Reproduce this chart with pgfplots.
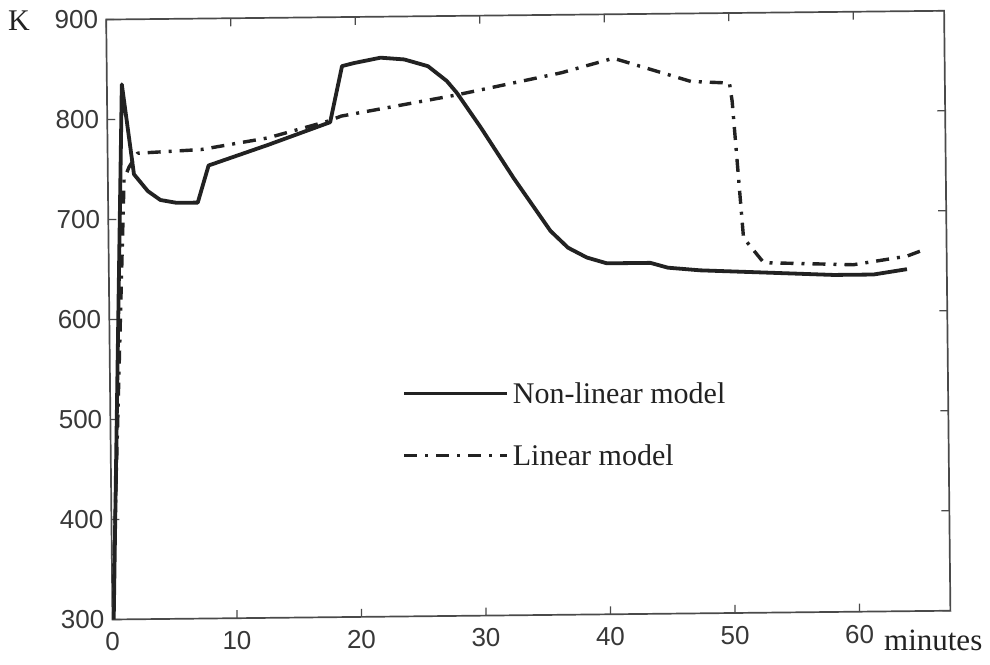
\documentclass[border=0pt]{standalone}
\usepackage{fontspec}
\setmainfont{Liberation Serif}
\newfontfamily\ticksans{Liberation Sans}
\usepackage{pgfplots}
\pgfplotsset{compat=1.18}
\definecolor{ink}{HTML}{222222}
\definecolor{framegray}{HTML}{4a4a4a}

% Temperature response of the non-linear and the linear model
\pgfplotstableread{
t     K
0.1   300
1.2   835
2.1   745
3.2   728
4.2   719
5.5   716
7.2   716
8.1   753
12.9  773
17.9  795
18.9  851
19.9  854
22.0  859
23.9  857
25.8  850
27.3  835
28.1  823
30.0  788
32.6  737
35.5  684
36.9  667
38.4  657
40.0  651
43.5  651
44.9  646
47.5  643
52.9  640
58.2  637
61.4  637
64.1  642
}\nonlinear

\pgfplotstableread{
t     K
0.0   300
1.3   740
1.7   752
2.4   766
7.5   769
12.9  780
17.7  796
18.8  801
28.1  821
36.5  842
40.7  856
46.9  832
50.0  830
50.2  812
51.0  675
52.6  650
59.8  647
64.1  655
65.2  660
}\linear

\begin{document}
\begin{tikzpicture}
\path[use as bounding box, fill=white] (0,0) rectangle (990pt,664pt);
\begin{axis}[
  rotate around={0.6:(0,0)},
  at={(106.2pt,44.5pt)}, anchor=south west,
  scale only axis, width=838pt, height=600pt,
  xmin=0, xmax=67.3, ymin=300, ymax=900,
  xtick={0,10,...,60}, ytick={300,400,...,900},
  tick align=inside, major tick length=8pt,
  axis line style={framegray, line width=1.7pt},
  every tick/.style={framegray, line width=1.2pt},
  /pgf/number format/assume math mode=true,
  tick label style={font=\ticksans\fontsize{26}{26}\selectfont, text=ink!90, inner sep=0pt},
  xticklabel style={anchor=north, yshift=-13pt},
  yticklabel style={anchor=east, xshift=-8pt},
  xlabel={minutes},
  xlabel style={at={(axis description cs:0.921,-0.0480)}, anchor=west, inner sep=0pt,
                font=\fontsize{31}{31}\selectfont, text=ink},
  ylabel={K},
  ylabel style={rotate=-90, at={(axis description cs:-0.096,0.985)}, anchor=center, inner sep=0pt,
                font=\fontsize{30}{30}\selectfont, text=ink},
  legend cell align=left,
  legend image code/.code={\draw[#1] (0pt,0pt) -- (103pt,0pt);},
  legend style={draw=none, fill=none, at={(0.3527,0.3152)}, anchor=west,
                inner sep=0pt, row sep=36pt,
                font=\fontsize{30}{30}\selectfont, text=ink,
                /tikz/every odd column/.append style={column sep=2pt}},
]
\addplot[ink, line width=3.8pt, line join=round] table[x=t, y=K] {\nonlinear};
\addlegendentry{Non-linear model}
\addplot[ink, line width=3.4pt, line join=round,
         dash pattern=on 13pt off 8pt on 3pt off 8pt] table[x=t, y=K] {\linear};
\addlegendentry{Linear model}
\end{axis}
\end{tikzpicture}
\end{document}
